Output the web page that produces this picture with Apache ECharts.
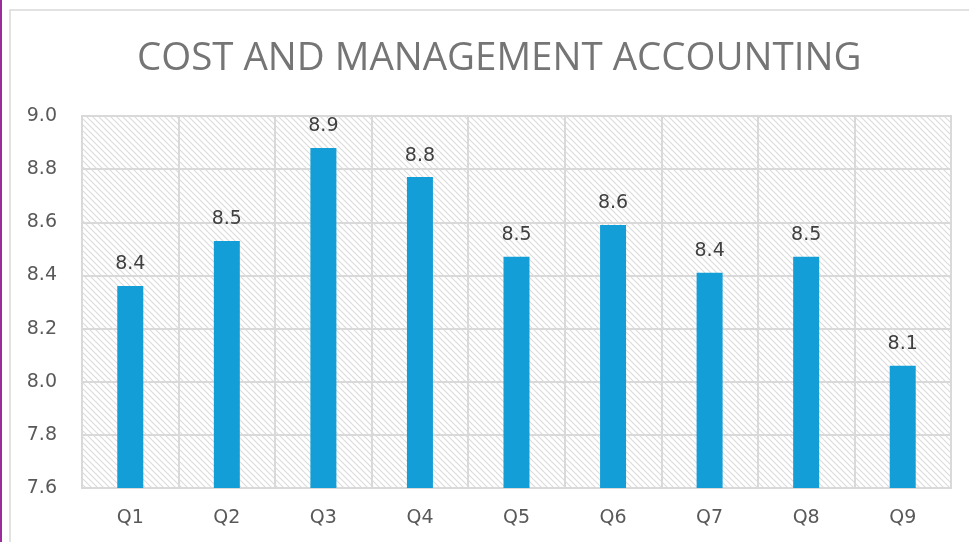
<!DOCTYPE html>
<html>
<head>
<meta charset="utf-8">
<script src="https://cdn.jsdelivr.net/npm/echarts@6/dist/echarts.min.js"></script>
<style>
  html, body { margin: 0; padding: 0; background: #fff; }
  #chart { width: 969px; height: 542px; }
</style>
</head>
<body>
<div id="chart"></div>
<script>
const categories = ['Q1', 'Q2', 'Q3', 'Q4', 'Q5', 'Q6', 'Q7', 'Q8', 'Q9'];
const scores = [8.36, 8.53, 8.88, 8.77, 8.47, 8.59, 8.41, 8.47, 8.06];
const titleText = 'COST AND MANAGEMENT ACCOUNTING';

const titleFont = 'Open Sans';
const labelFont = 'DejaVu Sans';

// diagonal hatch for the plot background
function makeHatch() {
  const c = document.createElement('canvas');
  c.width = 6;
  c.height = 6;
  const ctx = c.getContext('2d');
  ctx.fillStyle = '#ffffff';
  ctx.fillRect(0, 0, 6, 6);
  ctx.strokeStyle = '#dcdcdc';
  ctx.lineWidth = 1.2;
  ctx.beginPath();
  ctx.moveTo(0, 0); ctx.lineTo(6, 6);
  ctx.moveTo(-3, 3); ctx.lineTo(3, 9);
  ctx.moveTo(3, -3); ctx.lineTo(9, 3);
  ctx.stroke();
  return c;
}

const chart = echarts.init(document.getElementById('chart'));
chart.setOption({
  animation: false,
  backgroundColor: '#fff',
  graphic: [
    { type: 'rect', shape: { x: 0, y: 0, width: 2, height: 542 }, style: { fill: '#9b2d9b' } },
    { type: 'rect', shape: { x: 10, y: 10, width: 980, height: 560 }, style: { fill: 'none', stroke: '#d9d9d9', lineWidth: 1.5 } }
  ],
  title: {
    text: titleText,
    left: 132,
    top: 35,
    textStyle: { fontFamily: titleFont, fontWeight: 'normal', fontSize: 38.5, color: '#757575' }
  },
  grid: {
    left: 82,
    right: 18,
    top: 116,
    bottom: 54,
    show: true,
    borderColor: '#d9d9d9',
    borderWidth: 2,
    backgroundColor: { image: makeHatch(), repeat: 'repeat' }
  },
  xAxis: {
    type: 'category',
    data: categories,
    axisLine: { lineStyle: { color: '#d9d9d9', width: 2 } },
    axisTick: { show: false },
    splitLine: { show: true, interval: 0, lineStyle: { color: '#d9d9d9', width: 2 } },
    axisLabel: { color: '#595959', fontSize: 19, fontFamily: labelFont, margin: 21 }
  },
  yAxis: {
    type: 'value',
    min: 7.6,
    max: 9.0,
    interval: 0.2,
    axisLine: { show: false },
    axisTick: { show: false },
    splitLine: { lineStyle: { color: '#d9d9d9', width: 2 } },
    axisLabel: {
      color: '#595959', fontSize: 19, fontFamily: labelFont, margin: 25,
      formatter: v => v.toFixed(1)
    }
  },
  series: [{
    type: 'bar',
    data: scores,
    barWidth: 26,
    itemStyle: { color: '#139ed7' },
    label: {
      show: true,
      position: 'top',
      distance: 12,
      color: '#404040',
      fontSize: 19,
      fontFamily: labelFont,
      formatter: p => p.value.toFixed(1)
    }
  }]
});
</script>
</body>
</html>
